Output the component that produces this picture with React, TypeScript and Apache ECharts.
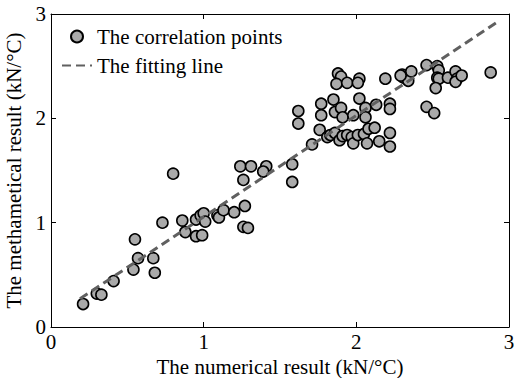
import React, { useEffect, useRef } from "react";
import * as echarts from "echarts";

const pointX = [
  0.21, 0.30, 0.33, 0.41, 0.55, 0.57, 0.54, 0.67, 0.68, 0.73,
  0.80, 0.86, 0.88, 0.95, 0.99, 0.95, 0.98, 1.00, 1.01, 1.09,
  1.10, 1.13, 1.20, 1.27, 1.26, 1.29, 1.26, 1.24, 1.31, 1.41,
  1.39, 1.58, 1.58, 1.62, 1.62, 1.71, 1.77, 1.77, 1.76, 1.81,
  1.83, 1.86, 1.85, 1.86, 1.88, 1.90, 1.87, 1.94, 1.89, 1.91,
  1.94, 1.90, 1.91, 1.97, 1.98, 1.98, 2.01, 2.02, 2.02, 2.01,
  2.05, 2.06, 2.06, 2.07, 2.08, 2.12, 2.13, 2.15, 2.22, 2.22,
  2.22, 2.22, 2.19, 2.30, 2.31, 2.34, 2.36, 2.46, 2.53, 2.54,
  2.53, 2.54, 2.52, 2.60, 2.65, 2.66, 2.65, 2.69, 2.88, 2.46,
  2.51, 2.29,
];
const pointY = [
  0.22, 0.32, 0.31, 0.44, 0.84, 0.66, 0.55, 0.66, 0.52, 1.00,
  1.47, 1.02, 0.91, 0.87, 0.88, 1.03, 1.07, 1.09, 1.01, 1.07,
  1.05, 1.12, 1.10, 1.16, 0.96, 0.95, 1.41, 1.54, 1.54, 1.54,
  1.49, 1.56, 1.39, 2.07, 1.95, 1.75, 2.14, 2.03, 1.89, 1.82,
  1.84, 1.86, 2.18, 2.06, 2.43, 2.40, 2.33, 2.34, 1.79, 1.83,
  1.84, 2.10, 2.01, 1.82, 1.76, 2.03, 1.84, 2.19, 2.38, 2.34,
  1.85, 2.10, 2.01, 1.76, 1.90, 1.91, 2.13, 1.78, 2.14, 2.09,
  1.86, 1.73, 2.38, 2.42, 2.39, 2.36, 2.45, 2.51, 2.50, 2.46,
  2.39, 2.38, 2.29, 2.39, 2.45, 2.38, 2.35, 2.41, 2.44, 2.11,
  2.05, 2.41,
];
const fitX = [0.19, 2.92];
const fitY = [0.27, 2.92];
const axisTicks = [0, 1, 2, 3];
const xName = "The numerical result (kN/°C)";
const yName = "The methametical result (kN/°C)";
const seriesNames = ["The correlation points", "The fitting line"];

const FONT = "'Liberation Serif', 'Times New Roman', serif";
const FS = 21;

export default function App() {
  const ref = useRef<HTMLDivElement>(null);
  useEffect(() => {
    if (!ref.current) return;
    const chart = echarts.init(ref.current, undefined, { renderer: "svg" });
    const axisMin = axisTicks[0];
    const axisMax = axisTicks[axisTicks.length - 1];
    const baseAxis = {
      type: "value" as const,
      min: axisMin,
      max: axisMax,
      interval: 1,
      splitLine: { show: false },
      axisLine: { show: true, onZero: false, lineStyle: { color: "#000", width: 1 } },
      axisTick: { show: true, inside: true, length: 5, lineStyle: { color: "#000" } },
    };
    chart.setOption({
      animation: false,
      backgroundColor: "#fff",
      grid: { left: 51, right: 5, top: 14, bottom: 51, containLabel: false, outerBoundsMode: "none" },
      legend: {
        orient: "vertical",
        left: 56,
        top: 21,
        itemWidth: 30,
        itemHeight: 12,
        itemGap: 8,
        textStyle: { fontSize: FS, fontFamily: FONT, color: "#000" },
        data: [
          { name: seriesNames[0] },
          { name: seriesNames[1], itemStyle: { opacity: 0 } },
        ],
      },
      xAxis: [
        {
          ...baseAxis,
          position: "bottom",
          name: xName,
          nameLocation: "middle",
          nameGap: 24,
          nameTextStyle: { fontSize: FS, fontFamily: FONT, color: "#000" },
          axisLabel: { fontSize: FS, fontFamily: FONT, color: "#000", margin: 4 },
        },
        {
          ...baseAxis,
          position: "top",
          axisLabel: { show: false },
        },
      ],
      yAxis: [
        {
          ...baseAxis,
          position: "left",
          name: yName,
          nameLocation: "middle",
          nameGap: 21,
          nameTextStyle: { fontSize: FS, fontFamily: FONT, color: "#000" },
          axisLabel: { fontSize: FS, fontFamily: FONT, color: "#000", margin: 5 },
        },
        {
          ...baseAxis,
          position: "right",
          axisLabel: { show: false },
        },
      ],
      series: [
        {
          name: seriesNames[0],
          type: "scatter",
          xAxisIndex: 0,
          yAxisIndex: 0,
          symbol: "circle",
          symbolSize: 11,
          itemStyle: { color: "#aaaaaa", borderColor: "#000", borderWidth: 1.6, opacity: 1 },
          data: pointX.map((x, i) => [x, pointY[i]]),
          z: 2,
        },
        {
          name: seriesNames[1],
          type: "line",
          xAxisIndex: 0,
          yAxisIndex: 0,
          symbol: "none",
          showSymbol: false,
          lineStyle: { color: "#606060", width: 3, type: [9, 5] },
          itemStyle: { color: "#606060" },
          data: fitX.map((x, i) => [x, fitY[i]]),
          z: 3,
        },
      ],
    });
    return () => chart.dispose();
  }, []);
  return <div ref={ref} style={{ width: 514, height: 378, position: "absolute", left: 0, top: 0 }} />;
}
